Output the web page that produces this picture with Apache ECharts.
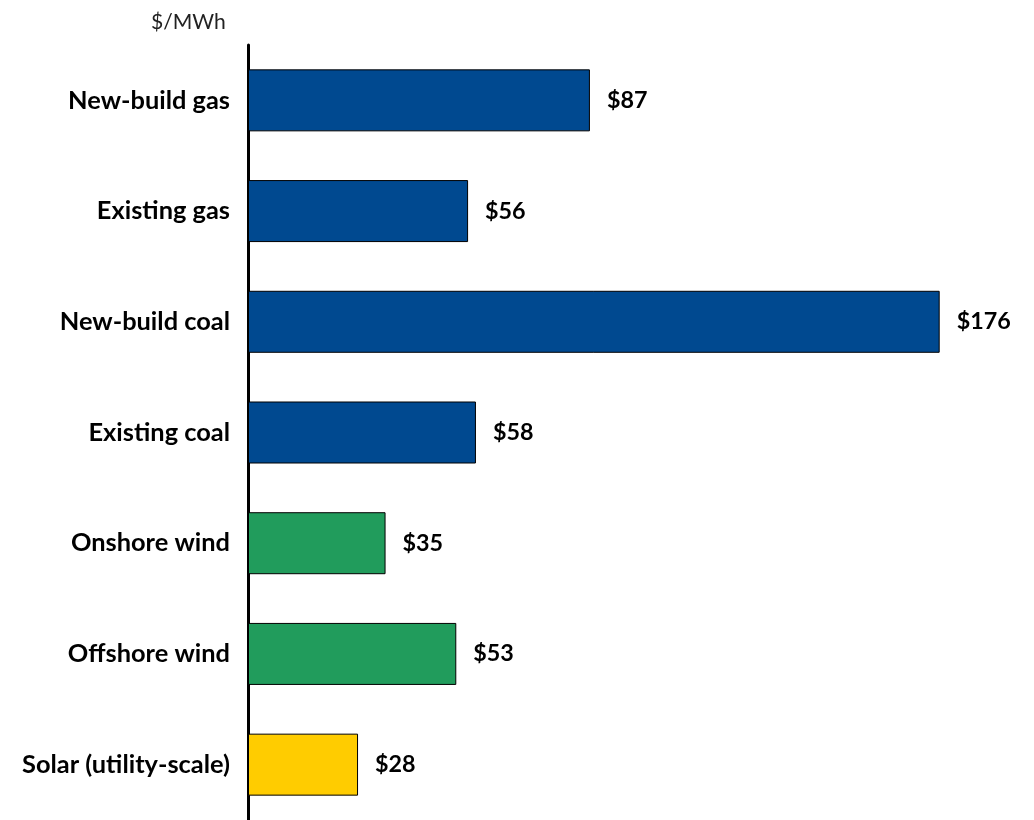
<!DOCTYPE html>
<html><head><meta charset="utf-8">
<script src="https://cdn.jsdelivr.net/npm/echarts@6/dist/echarts.min.js"></script>
<style>html,body{margin:0;padding:0;background:#fff}#c{width:1034px;height:820px}</style>
</head><body><div id="c"></div>
<script>
const categories = ['New-build gas','Existing gas','New-build coal','Existing coal','Onshore wind','Offshore wind','Solar (utility-scale)'];
const values = [87,56,176,58,35,53,28];
const colors = ['#004990','#004990','#004990','#004990','#219C5C','#219C5C','#FFCC00'];
const unitLabel = '$/MWh';

const FONT = 'Lato, "Open Sans", "Liberation Sans", sans-serif';
const cv = document.createElement('canvas').getContext('2d');
function fit(text, weight, target){
  cv.font = weight + ' 100px ' + FONT;
  return Math.round(100 * target / cv.measureText(text).width * 10) / 10;
}
const catSize = fit('Solar (utility-scale)', 'bold', 208);
const valSize = fit('$176', 'bold', 54);
const titleSize = fit('$/MWh', 'normal', 75);

const chart = echarts.init(document.getElementById('c'));
chart.setOption({
  animation:false,
  backgroundColor:'#fff',
  title:{text:unitLabel,left:146,top:7,textStyle:{fontFamily:FONT,fontSize:titleSize,fontWeight:'normal',color:'#222'}},
  grid:{left:248,top:45,width:787.5,height:779,containLabel:false},
  xAxis:{type:'value',min:0,max:200,show:false},
  yAxis:{type:'category',data:categories,inverse:true,
    axisLine:{show:true,lineStyle:{color:'#000',width:3}},
    axisTick:{show:false},
    axisLabel:{fontFamily:FONT,fontSize:catSize,fontWeight:'bold',color:'#000',margin:18},
    splitLine:{show:false}},
  series:[{type:'bar',barWidth:62,
    data:values.map((v,i)=>({value:v,itemStyle:{color:colors[i]}})),
    itemStyle:{borderColor:'#000',borderWidth:1},
    label:{show:true,position:'right',distance:17,formatter:p=>'$'+p.value,
      fontFamily:FONT,fontSize:valSize,fontWeight:'bold',color:'#000'}}]
});
</script></body></html>
